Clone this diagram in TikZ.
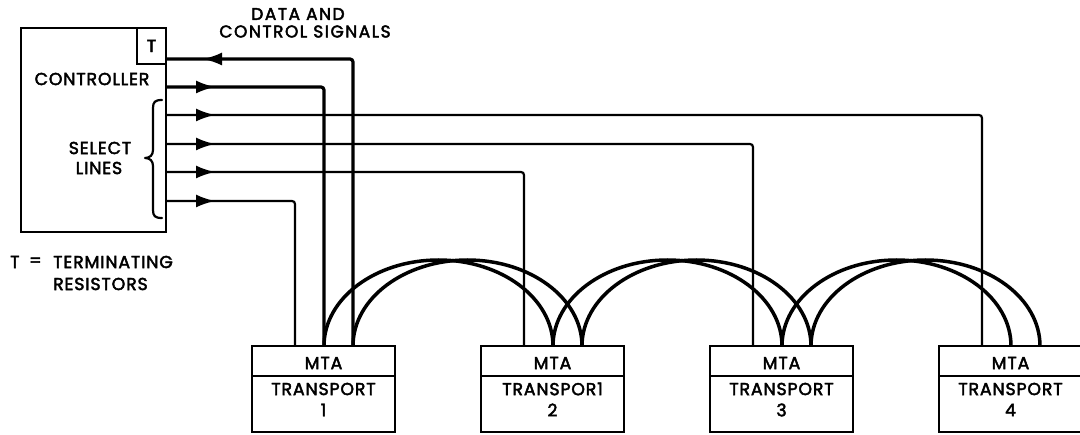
\documentclass[tikz,border=0pt]{standalone}
\usepackage{fontspec}
\setmainfont{Poppins}[FakeBold=2.6, LetterSpace=5]
\usetikzlibrary{arrows.meta,calc}
\begin{document}
\begin{tikzpicture}[x=1pt,y=-1pt,
  box/.style={draw, line width=1.9pt, inner sep=0pt, outer sep=0pt, anchor=north west},
  lbl/.style={font=\fontsize{17.3}{20}\selectfont, inner sep=0pt},
  captiontext/.style={font=\fontsize{17}{20}\selectfont\addfontfeatures{LetterSpace=9}, inner sep=0pt},
  bus/.style={line width=3.2pt, rounded corners=3pt},
  sel/.style={line width=2.2pt, rounded corners=3pt},
  tipline/.style={line width=2.2pt, -{Latex[length=19pt,width=13pt]}},
  arcbus/.style={line width=3.5pt},
  bracepath/.style={line width=2.2pt, line cap=round, line join=round},
]
\useasboundingbox (0,0) rectangle (1080,435);

% controller with its terminating resistors
\node[box, minimum width=145pt, minimum height=204pt] (ctrl) at (21,28) {};
\node[box, minimum width=29pt, minimum height=36pt, lbl] (term) at (137,28) {T};
\node[lbl] (ctrltxt) at (92,79) {CONTROLLER};
\node[lbl] (seltxt) at (100,148) {SELECT};
\node[lbl] (linestxt) at (99,168) {LINES};
\draw[bracepath] (162,100) .. controls (155,100) and (153,102) .. (153,108)
  -- (153,150) .. controls (153,155) and (150,158) .. (145,158)
  .. controls (150,158) and (153,161) .. (153,166)
  -- (153,210) .. controls (153,216) and (155,218) .. (162,218);

% legend and signal caption
\node[lbl, anchor=west] (tkey) at (10,262) {T};
\node[lbl, anchor=west] (eqkey) at (29,262) {=};
\node[lbl, anchor=west] (termtxt) at (53,262) {TERMINATING};
\node[lbl, anchor=west] (restxt) at (53,284) {RESISTORS};
\node[captiontext] (sigA) at (298,14) {DATA AND};
\node[captiontext] (sigB) at (305,31.5) {CONTROL SIGNALS};

% tape transports, each with its MTA
\foreach \i/\L/\t in {1/252/TRANSPORT, 2/481/TRANSPOR1, 3/710/TRANSPORT, 4/939/TRANSPORT} {
  \node[box, minimum width=143pt, minimum height=30pt] (mta\i) at (\L,346) {};
  \node[lbl] (mtatxt\i) at ($(mta\i.north)+(0,17)$) {MTA};
  \node[box, minimum width=143pt, minimum height=56pt] (tr\i) at (\L,376) {};
  \node[lbl] (trtxt\i) at ($(tr\i.north)+(0,13)$) {\t};
  \node[lbl] (trnum\i) at ($(tr\i.north)+(0,34)$) {\i};
  \coordinate (tap\i) at ($(mta\i.north west)+(43,0)$);
  \coordinate (pa\i) at ($(mta\i.north west)+(72,0)$);
  \coordinate (pb\i) at ($(mta\i.north west)+(101,0)$);
}

% outputs on the controller's right side
\coordinate (o1) at ($(ctrl.north east)+(0,31)$);
\coordinate (o2) at ($(ctrl.north east)+(0,59)$);
\coordinate (o3) at ($(ctrl.north east)+(0,87)$);
\coordinate (o4) at ($(ctrl.north east)+(0,116)$);
\coordinate (o5) at ($(ctrl.north east)+(0,144)$);
\coordinate (o6) at ($(ctrl.north east)+(0,173)$);

% data and control bus to the first transport
\draw[bus] (o1) -| (pb1);
\draw[bus] (o2) -| (pa1);
% select lines, one per transport
\draw[sel] (o3) -| (tap4);
\draw[sel] (o4) -| (tap3);
\draw[sel] (o5) -| (tap2);
\draw[sel] (o6) -| (tap1);

% direction arrows
\draw[tipline] ($(o1)+(56,0)$) -- ($(o1)+(37,0)$);
\foreach \k in {2,...,6} {
  \draw[tipline] ($(o\k)+(30,0)$) -- ($(o\k)+(49,0)$);
}

% daisy-chained bus between transports
\foreach \i/\j in {1/2,2/3,3/4} {
  \draw[arcbus] (pa\i) .. controls +(0,-47.5) and +(-63.2,0) .. ($(pa\i)!0.5!(pa\j)+(0,-86)$)
    .. controls +(63.2,0) and +(0,-47.5) .. (pa\j);
  \draw[arcbus] (pb\i) .. controls +(0,-47.5) and +(-63.2,0) .. ($(pb\i)!0.5!(pb\j)+(0,-86)$)
    .. controls +(63.2,0) and +(0,-47.5) .. (pb\j);
}
\end{tikzpicture}
\end{document}
